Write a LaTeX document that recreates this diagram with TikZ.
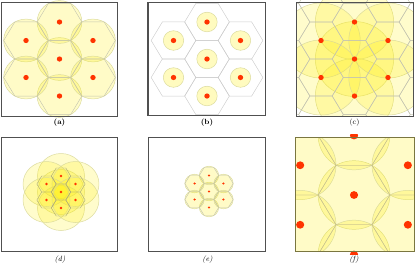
\documentclass[tikz,border=0pt]{standalone}
\usepackage{tikz}
\definecolor{dotRed}{HTML}{FF3300}
\definecolor{cellYellow}{HTML}{FFEE00}
\definecolor{rimYellow}{HTML}{D8D898}
\definecolor{hexGray}{HTML}{C4C4B0}
\definecolor{hexOlive}{HTML}{AEAE78}
\definecolor{hexPale}{HTML}{C8C28E}
\definecolor{frameGray}{HTML}{505050}
\definecolor{frameOlive}{HTML}{7A7640}
\newcommand{\cells}{0/0,0/-1,0/1,-1/-0.5,1/-0.5,-1/0.5,1/0.5}
\newcommand{\outercells}{0/-2,0/2,-2/0,2/0,-2/-1,-2/1,2/-1,2/1,-1/-1.5,1/-1.5,-1/1.5,1/1.5}

\begin{document}
\begin{tikzpicture}[x=1pt, y=-1pt, font=\fontsize{7.5}{8}\selectfont,
    frame/.style={draw=frameGray, line width=0.9pt},
    cover/.style={fill=cellYellow, fill opacity=0.22, draw=rimYellow, draw opacity=0.9, line width=0.5pt},
    hexline/.style={draw=hexGray, line width=0.45pt},
    site/.style={fill=dotRed}]
    \useasboundingbox (0,0) rectangle (415,269);

    % (a) circles round each cell
    \begin{scope}[shift={(59.5,59)}, xscale=1.045]
        \foreach \u/\v in \cells {
            \filldraw[cover] ({\u*32.04},{\v*37}) circle[radius=21.4];
            \draw[hexline] ({\u*32.04},{\v*37}) +(0:21.4) -- +(60:21.4) -- +(120:21.4) -- +(180:21.4) -- +(240:21.4) -- +(300:21.4) -- cycle;
            \fill[site] ({\u*32.04},{\v*37}) circle[radius=2.6];
        }
    \end{scope}
    \draw[frame] (1.5,2) rectangle (117,116.5);
    \node (lblA) at (59.5,123) {\textbf{(a)}};

    % (b) small circles
    \begin{scope}[shift={(207,59)}, xscale=1.045]
        \foreach \u/\v in \cells {
            \draw[hexline, draw=gray!40] ({\u*32.04},{\v*37}) +(0:21.4) -- +(60:21.4) -- +(120:21.4) -- +(180:21.4) -- +(240:21.4) -- +(300:21.4) -- cycle;
            \filldraw[cover, fill opacity=0.25] ({\u*32.04},{\v*37}) circle[radius=9.8];
            \fill[site] ({\u*32.04},{\v*37}) circle[radius=2.6];
        }
    \end{scope}
    \draw[frame] (148,2) rectangle (265.5,115.7);
    \draw[frameGray, line width=1.8pt] (148,2) -- (148,115.7);
    \node (lblB) at (207,123) {\textbf{(b)}};

    % (c) large circles
    \begin{scope}
        \clip (296,0) rectangle (413,116);
        \begin{scope}[shift={(354.5,59)}, xscale=1.045]
            \foreach \u/\v in \cells {
                \filldraw[cover, fill opacity=0.2] ({\u*32.04},{\v*37}) circle[radius=37.5];
            }
            \foreach \u/\v in \outercells {
                \draw[hexline] ({\u*32.04},{\v*37}) +(0:21.4) -- +(60:21.4) -- +(120:21.4) -- +(180:21.4) -- +(240:21.4) -- +(300:21.4) -- cycle;
            }
            \foreach \u/\v in \cells {
                \draw[hexline] ({\u*32.04},{\v*37}) +(0:21.4) -- +(60:21.4) -- +(120:21.4) -- +(180:21.4) -- +(240:21.4) -- +(300:21.4) -- cycle;
                \fill[site] ({\u*32.04},{\v*37}) circle[radius=2.6];
            }
        \end{scope}
    \end{scope}
    \draw[frame] (296,2) rectangle (413,116);
    \node (lblC) at (354.5,123) {(c)};

    % (d) small grid, large circles
    \begin{scope}[shift={(61,192)}, xscale=1.045]
        \foreach \u/\v in \cells {
            \filldraw[cover, fill opacity=0.2] ({\u*13.86},{\v*16}) circle[radius=22.5];
        }
        \foreach \u/\v in \cells {
            \draw[hexline, draw=hexOlive] ({\u*13.86},{\v*16}) +(0:9.24) -- +(60:9.24) -- +(120:9.24) -- +(180:9.24) -- +(240:9.24) -- +(300:9.24) -- cycle;
            \fill[site] ({\u*13.86},{\v*16}) circle[radius=1.3];
        }
    \end{scope}
    \draw[frame] (1,137.5) rectangle (117,251.5);
    \node (lblD) at (60,259.5) {\textit{(d)}};

    % (e) small grid, circles round each cell
    \begin{scope}[shift={(209,191.5)}, xscale=1.045]
        \foreach \u/\v in \cells {
            \filldraw[cover] ({\u*13.86},{\v*16}) circle[radius=9.3];
            \draw[hexline] ({\u*13.86},{\v*16}) +(0:9.24) -- +(60:9.24) -- +(120:9.24) -- +(180:9.24) -- +(240:9.24) -- +(300:9.24) -- cycle;
            \fill[site] ({\u*13.86},{\v*16}) circle[radius=1.2];
        }
    \end{scope}
    \draw[frame] (148,137.5) rectangle (265.5,251.5);
    \node (lblE) at (207.5,259.5) {\textit{(e)}};

    % (f) close view of the grid
    \begin{scope}
        \clip (295,137.5) rectangle (414,251.7);
        \begin{scope}[shift={(354,195)}, xscale=1.045]
            \foreach \u/\v in \cells {
                \filldraw[cover] ({\u*51.53},{\v*59.5}) circle[radius=34.35];
            }
            \foreach \u/\v in \cells {
                \draw[hexline, draw=hexPale, line width=0.4pt] ({\u*51.53},{\v*59.5}) +(0:34.35) -- +(60:34.35) -- +(120:34.35) -- +(180:34.35) -- +(240:34.35) -- +(300:34.35) -- cycle;
            }
        \end{scope}
    \end{scope}
    \begin{scope}
        \clip (290,134.8) rectangle (415,254);
        \begin{scope}[shift={(354,195)}, xscale=1.045]
            \foreach \u/\v in \cells {
                \fill[site] ({\u*51.53},{\v*59.5}) circle[radius=3.9];
            }
        \end{scope}
    \end{scope}
    \draw[frame, draw=frameOlive] (295,137.5) rectangle (414,251.7);
    \node (lblF) at (354,259.5) {\textit{(f)}};
\end{tikzpicture}
\end{document}
